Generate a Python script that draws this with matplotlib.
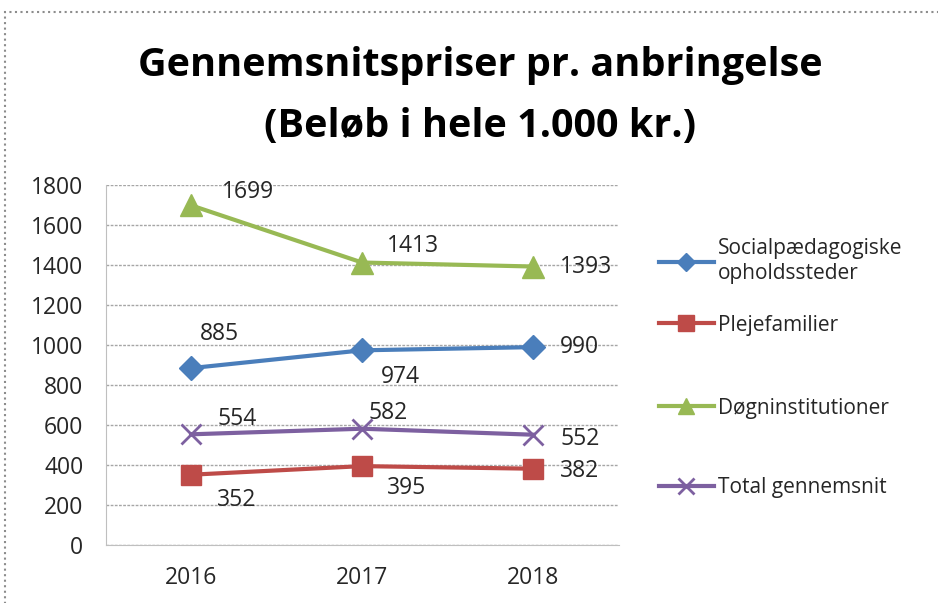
import numpy as np
import matplotlib.pyplot as plt
from matplotlib.patches import Rectangle

years = ['2016', '2017', '2018']
social = [885, 974, 990]
pleje = [352, 395, 382]
doegn = [1699, 1413, 1393]
total = [554, 582, 552]

names = ['Socialpædagogiske\nopholdssteder', 'Plejefamilier',
         'Døgninstitutioner', 'Total gennemsnit']

plt.rcParams['font.family'] = ['Open Sans', 'DejaVu Sans']

fig = plt.figure(figsize=(9.38, 6.03), dpi=100)
ax = fig.add_axes([0.1125, 0.096, 0.547, 0.597])

x = np.arange(len(years))

series = [
    (social, '#4a7ebb', 'D', 12),
    (pleje, '#be4b48', 's', 14.5),
    (doegn, '#98b954', '^', 16),
    (total, '#7d60a0', 'x', 15),
]
handles = []
for (vals, col, mk, ms), name in zip(series, names):
    h, = ax.plot(x, vals, color=col, marker=mk, markersize=ms, linewidth=3,
                 markeredgewidth=2 if mk == 'x' else 1, label=name)
    handles.append(h)

# data label offsets in pixels (left edge dx, centre dy, y up)
offsets = [
    [(9, 34), (19, -27), (27, 0)],
    [(26, -25), (25, -22), (27, -2)],
    [(31, 13), (25, 17), (27, 0)],
    [(26, 15), (6, 16), (27, -4)],
]
for i, (vals, col, mk, ms) in enumerate(series):
    for j, v in enumerate(vals):
        dx, dy = offsets[i][j]
        ax.annotate(str(v), (x[j], v), xytext=(dx, dy), textcoords='offset pixels',
                    fontsize=16.5, color='#262626', va='center', ha='left')

ax.set_xlim(-0.5, 2.5)
ax.set_ylim(0, 1800)
ax.set_yticks(np.arange(0, 1801, 200))
ax.set_xticks(x)
ax.set_xticklabels(years)
ax.tick_params(axis='both', length=0, labelsize=16.5, colors='#262626')
ax.tick_params(axis='x', pad=15)
ax.tick_params(axis='y', pad=16)
ax.grid(axis='y', color='#a6a6a6', linestyle=(0, (2, 1)), linewidth=1)
ax.set_axisbelow(True)
for s in ['top', 'right']:
    ax.spines[s].set_visible(False)
ax.spines['left'].set_color('#bfbfbf')
ax.spines['bottom'].set_color('#bfbfbf')

fig.text(0.512, 0.892, 'Gennemsnitspriser pr. anbringelse',
         ha='center', va='center', fontsize=28.5, fontweight='bold')
fig.text(0.512, 0.79, '(Beløb i hele 1.000 kr.)',
         ha='center', va='center', fontsize=28.5, fontweight='bold')

# one legend per entry so each can sit at its own height
leg_y = [0.567, 0.461, 0.323, 0.191]
for h, yy in zip(handles, leg_y):
    leg = fig.legend(handles=[h], loc='center left', bbox_to_anchor=(0.703, yy),
                     frameon=False, fontsize=15, handlelength=2.6,
                     handletextpad=0.2, borderpad=0, borderaxespad=0,
                     markerscale=0.75, labelcolor='#262626')

fig.patches.append(Rectangle((0.005, -0.1), 1.1, 1.08, transform=fig.transFigure,
                             fill=False, edgecolor='#8c8c8c', linestyle=':',
                             linewidth=1.5))

fig.savefig('out.png', dpi=100)
